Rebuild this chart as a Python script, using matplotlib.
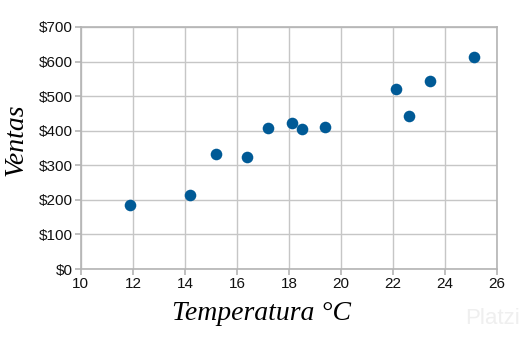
import matplotlib.pyplot as plt
from matplotlib.ticker import FuncFormatter

temperatura = [14.2, 16.4, 11.9, 15.2, 18.5, 22.1, 19.4, 25.1, 23.4, 18.1, 22.6, 17.2]
ventas = [215, 325, 185, 332, 406, 522, 412, 614, 544, 421, 442, 408]

fig = plt.figure(figsize=(5.25, 3.41), dpi=100)
ax = fig.add_axes([0.154, 0.211, 0.793, 0.710])

ax.scatter(temperatura, ventas, s=70, color='#005a96', zorder=3, linewidths=0)

ax.set_xlim(10, 26)
ax.set_ylim(0, 700)
ax.set_xticks(range(10, 27, 2))
ax.set_yticks(range(0, 701, 100))
ax.yaxis.set_major_formatter(FuncFormatter(lambda v, p: f'${int(v)}'))

ax.grid(True, color='#c6c6c6', linewidth=1)
ax.set_axisbelow(True)
for s in ax.spines.values():
    s.set_color('#b4b4b4')
    s.set_linewidth(1.2)
ax.tick_params(colors='#b4b4b4', labelcolor='#111111', length=4, width=1.2,
               labelsize=11, pad=2)
for lbl in ax.get_xticklabels() + ax.get_yticklabels():
    lbl.set_family('Liberation Sans')

# axis titles placed like the original (x title sits left of centre)
fig.text(261 / 525, 1 - 314 / 341, 'Temperatura °C', ha='center', va='center',
         family='Liberation Serif', style='italic', fontsize=20)
fig.text(16 / 525, 1 - 140 / 341, 'Ventas', ha='center', va='center',
         rotation=90, family='Liberation Serif', style='italic', fontsize=20)

fig.text(0.99, 0.035, 'Platzi', ha='right', va='bottom', fontsize=16,
         family='Liberation Sans', color='#efefef')

fig.savefig('out.png', dpi=100)
